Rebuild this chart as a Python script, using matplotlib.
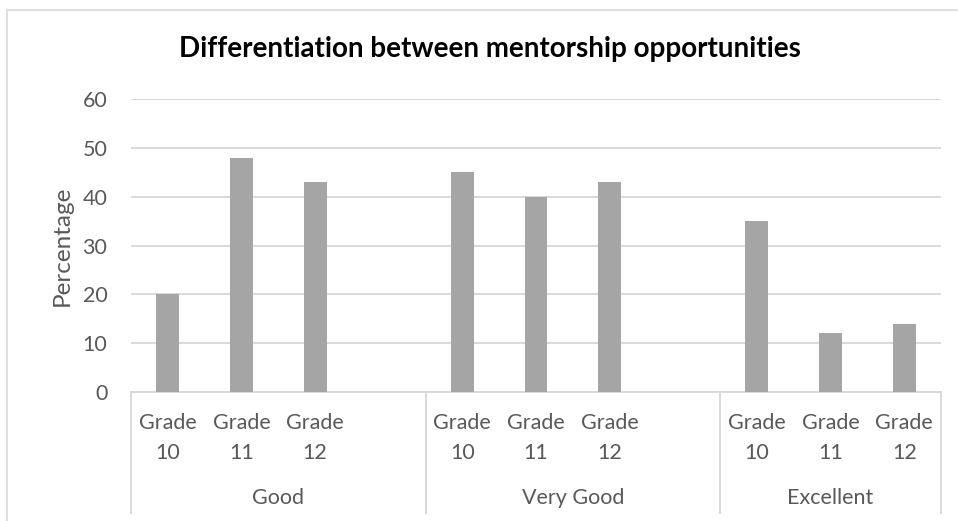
import matplotlib
matplotlib.use("Agg")
import matplotlib.pyplot as plt
import matplotlib.patches as patches

# data
groups = ["Good", "Very Good", "Excellent"]
grades = ["Grade\n10", "Grade\n11", "Grade\n12"]
good = [20, 48, 43]
very_good = [45, 40, 43]
excellent = [35, 12, 14]
# slots per group (Excel sheet had an empty row after the first two groups)
group_slots = [4, 4, 3]

plt.rcParams['font.family'] = ['Lato', 'DejaVu Sans']

bar_color = '#A5A5A5'
grid_color = '#D9D9D9'
text_color = '#595959'

f = plt.figure(figsize=(9.58, 5.21), dpi=100)
ax = f.add_axes([131/958, (521-392)/521, 810/958, 293/521])

# chart border (cut at the right and bottom)
f.add_artist(patches.Rectangle((7/958, -0.2), 2, 1.2 - 10/521, transform=f.transFigure,
                               fill=False, edgecolor=grid_color, linewidth=1.2))

# bars
start = 0
xpos = []
for vals, n in zip([good, very_good, excellent], group_slots):
    xs = [start + i for i in range(len(vals))]
    ax.bar(xs, vals, width=0.31, color=bar_color, zorder=3)
    xpos.append(xs)
    start += n

total = sum(group_slots)
ax.set_xlim(-0.5, total - 0.5)
ax.set_ylim(0, 60)

# y axis
ax.set_yticks(range(0, 61, 10))
ax.tick_params(axis='y', length=0, pad=17, labelsize=15.5, labelcolor=text_color)
ax.grid(axis='y', color=grid_color, linewidth=1.4, zorder=0)
for s in ['top', 'right', 'left']:
    ax.spines[s].set_visible(False)
ax.spines['bottom'].set_color(grid_color)
ax.spines['bottom'].set_linewidth(1.4)
ax.set_ylabel('Percentage', fontsize=17.5, color=text_color)
ax.yaxis.set_label_coords(-0.085, 0.5)
ax.yaxis.label.set_verticalalignment('center')

# multi-level category axis
ax.set_xticks([])
trans = ax.get_xaxis_transform()
for xs in xpos:
    for x, lab in zip(xs, grades):
        ax.text(x, -0.157, lab, transform=trans, ha='center', va='center',
                multialignment='center', fontsize=15.5, color=text_color, linespacing=1.6)
start = 0
edges = [-0.5]
for g, n in zip(groups, group_slots):
    ax.text(start + (n - 1) / 2, -0.362, g, transform=trans, ha='center', va='center',
            fontsize=15.5, color=text_color)
    start += n
    edges.append(start - 0.5)
for e in edges:
    ax.plot([e, e], [0, -0.413], transform=trans, color=grid_color, linewidth=1.4, clip_on=False)

# title
f.text(490/958, (521-57)/521, 'Differentiation between mentorship opportunities',
       ha='center', va='baseline', fontsize=20, fontweight='bold', color='black')

f.savefig('out.png', dpi=100)
